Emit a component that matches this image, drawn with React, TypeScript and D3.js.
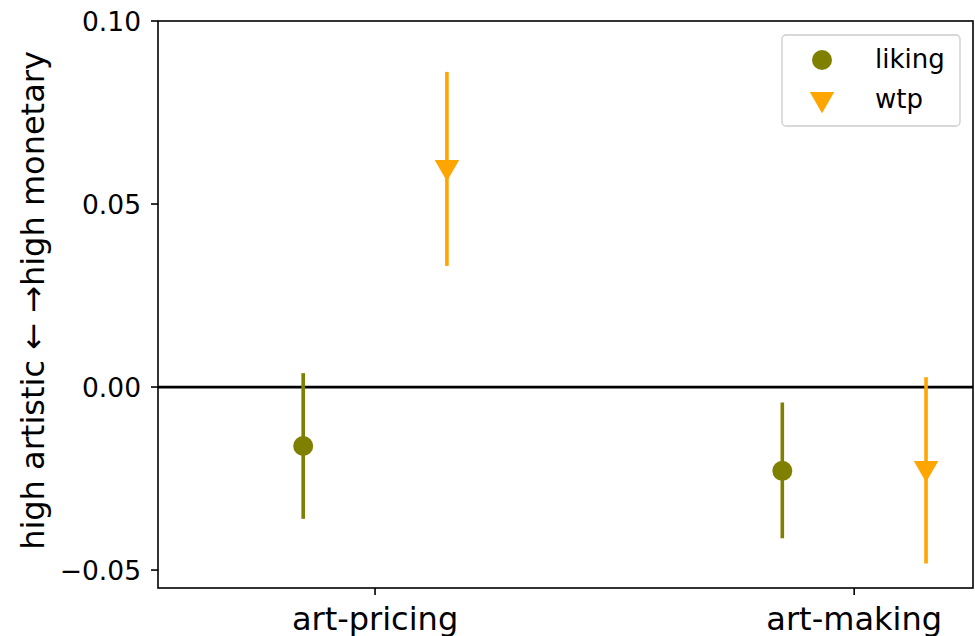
import React from "react";
import * as d3 from "d3";

// Condition categories along the x axis
const categories = ["art-pricing", "art-making"];
// Series and their per-category estimates with interval bounds
const seriesNames = ["liking", "wtp"];
const likingMean = [-0.0161, -0.0229];
const likingLow = [-0.036, -0.0413];
const likingHigh = [0.0038, -0.0042];
const wtpMean = [0.0598, -0.0224];
const wtpLow = [0.0331, -0.0482];
const wtpHigh = [0.0861, 0.0027];
const yTicks = [-0.05, 0.0, 0.05, 0.1];
const seriesOffset = [-0.15, 0.15];

const W = 975;
const H = 636;
const left = 158;
const right = 973;
const top = 21;
const bottom = 588;
const font = "DejaVu Sans, sans-serif";
const colors = ["#808000", "#FFA500"];

export default function App() {
  const x = d3.scaleLinear().domain([-0.453, 1.248]).range([left, right]);
  const y = d3.scaleLinear().domain([-0.0549, 0.1]).range([bottom, top]);
  const tri = d3.symbol().type(d3.symbolTriangle).size(260)();

  const series = [
    { mean: likingMean, low: likingLow, high: likingHigh },
    { mean: wtpMean, low: wtpLow, high: wtpHigh },
  ];

  return (
    <svg
      width={W}
      height={H}
      style={{ position: "absolute", left: 0, top: 0, background: "#fff" }}
      fontFamily={font}
    >
      {/* zero reference line */}
      <line x1={left} x2={right} y1={y(0)} y2={y(0)} stroke="#000" strokeWidth={2.8} />

      {series.map((s, si) =>
        categories.map((c, ci) => {
          const cx = x(ci + seriesOffset[si]);
          return (
            <g key={`${si}-${ci}`}>
              <line
                x1={cx}
                x2={cx}
                y1={y(s.low[ci])}
                y2={y(s.high[ci])}
                stroke={colors[si]}
                strokeWidth={3.6}
              />
              {si === 0 ? (
                <circle cx={cx} cy={y(s.mean[ci])} r={10} fill={colors[si]} />
              ) : (
                <path
                  d={tri}
                  transform={`translate(${cx},${y(s.mean[ci]) - 1}) rotate(180)`}
                  fill={colors[si]}
                />
              )}
            </g>
          );
        })
      )}

      {/* axes frame */}
      <rect
        x={left}
        y={top}
        width={right - left}
        height={bottom - top}
        fill="none"
        stroke="#000"
        strokeWidth={1.6}
      />

      {/* y ticks */}
      {yTicks.map((t) => (
        <g key={t} transform={`translate(0,${y(t)})`}>
          <line x1={left - 7} x2={left} stroke="#000" strokeWidth={1.6} />
          <text
            x={left - 17}
            dy="0.36em"
            textAnchor="end"
            fontSize={26.5}
            fill="#000"
          >
            {d3.format(".2f")(t).replace("-", "\u2212")}
          </text>
        </g>
      ))}

      {/* x ticks */}
      {categories.map((c, i) => (
        <g key={c} transform={`translate(${x(i)},0)`}>
          <line y1={bottom} y2={bottom + 7} stroke="#000" strokeWidth={1.6} />
          <text y={bottom + 42} textAnchor="middle" fontSize={32} fill="#000">
            {c}
          </text>
        </g>
      ))}

      {/* y label */}
      <text
        transform={`translate(44,${(top + bottom) / 2 - 4}) rotate(-90)`}
        textAnchor="middle"
        fontSize={32}
        fill="#000"
      >
        high artistic {"\u2190"} {"\u2192"}high monetary
      </text>

      {/* legend */}
      <g>
        <rect
          x={782}
          y={35}
          width={178}
          height={91}
          rx={4}
          fill="#fff"
          fillOpacity={0.8}
          stroke="#ccc"
          strokeWidth={1.3}
        />
        {seriesNames.map((n, i) => {
          const ly = 60 + i * 40;
          return (
            <g key={n}>
              {i === 0 ? (
                <circle cx={822} cy={ly} r={10} fill={colors[i]} />
              ) : (
                <path d={tri} transform={`translate(822,${ly - 1}) rotate(180)`} fill={colors[i]} />
              )}
              <text x={875} y={ly} dy="0.32em" fontSize={26} fill="#000">
                {n}
              </text>
            </g>
          );
        })}
      </g>
    </svg>
  );
}
